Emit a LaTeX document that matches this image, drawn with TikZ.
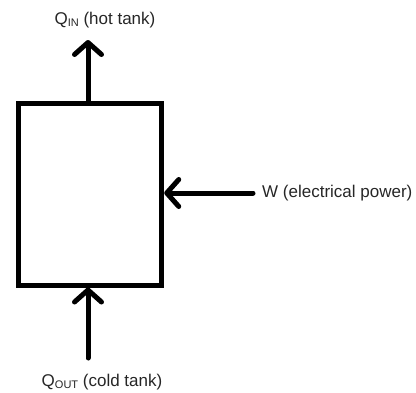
\documentclass[tikz,border=0pt]{standalone}
\usepackage{fontspec}
\setmainfont{Liberation Sans}
\usepackage{xcolor}
\usepackage{tikz}
\usetikzlibrary{positioning,arrows.meta}
\definecolor{pumpink}{HTML}{000000}
\definecolor{pumptext}{HTML}{262626}
\newcommand{\lowsub}[1]{\raisebox{-0.2ex}{\fontsize{11}{11}\selectfont #1}}

\begin{document}
\begin{tikzpicture}[x=1pt,y=-1pt,
  pumpbox/.style={draw=pumpink,line width=5pt,minimum width=143.5pt,minimum height=182pt,inner sep=0pt},
  flow/.style={draw=pumpink,line width=5pt,line cap=round,-{Straight Barb[length=12pt,width=27pt,line cap=round,round]}},
  lbl/.style={text=pumptext,font=\fontsize{17}{20}\selectfont,inner sep=0pt}
]
\useasboundingbox (0,0) rectangle (416,392);
\node[pumpbox] (pump) at (90,194) {};
\node[lbl] (qin) at (105,20) {Q\lowsub{IN} (hot tank)};
\node[lbl] (qout) at (102,382) {Q\lowsub{OUT} (cold tank)};
\node[lbl,anchor=west] (w) at (262,193) {W (electrical power)};
\coordinate (qintip) at (88,40);
\coordinate (qoutend) at (88,358);
\coordinate (wend) at (253,193);
\draw[flow] (pump.north -| qintip) -- (qintip);
\draw[flow] (qoutend) -- (qoutend |- pump.south);
\draw[flow] (wend) -- (wend -| pump.east);
\end{tikzpicture}
\end{document}
